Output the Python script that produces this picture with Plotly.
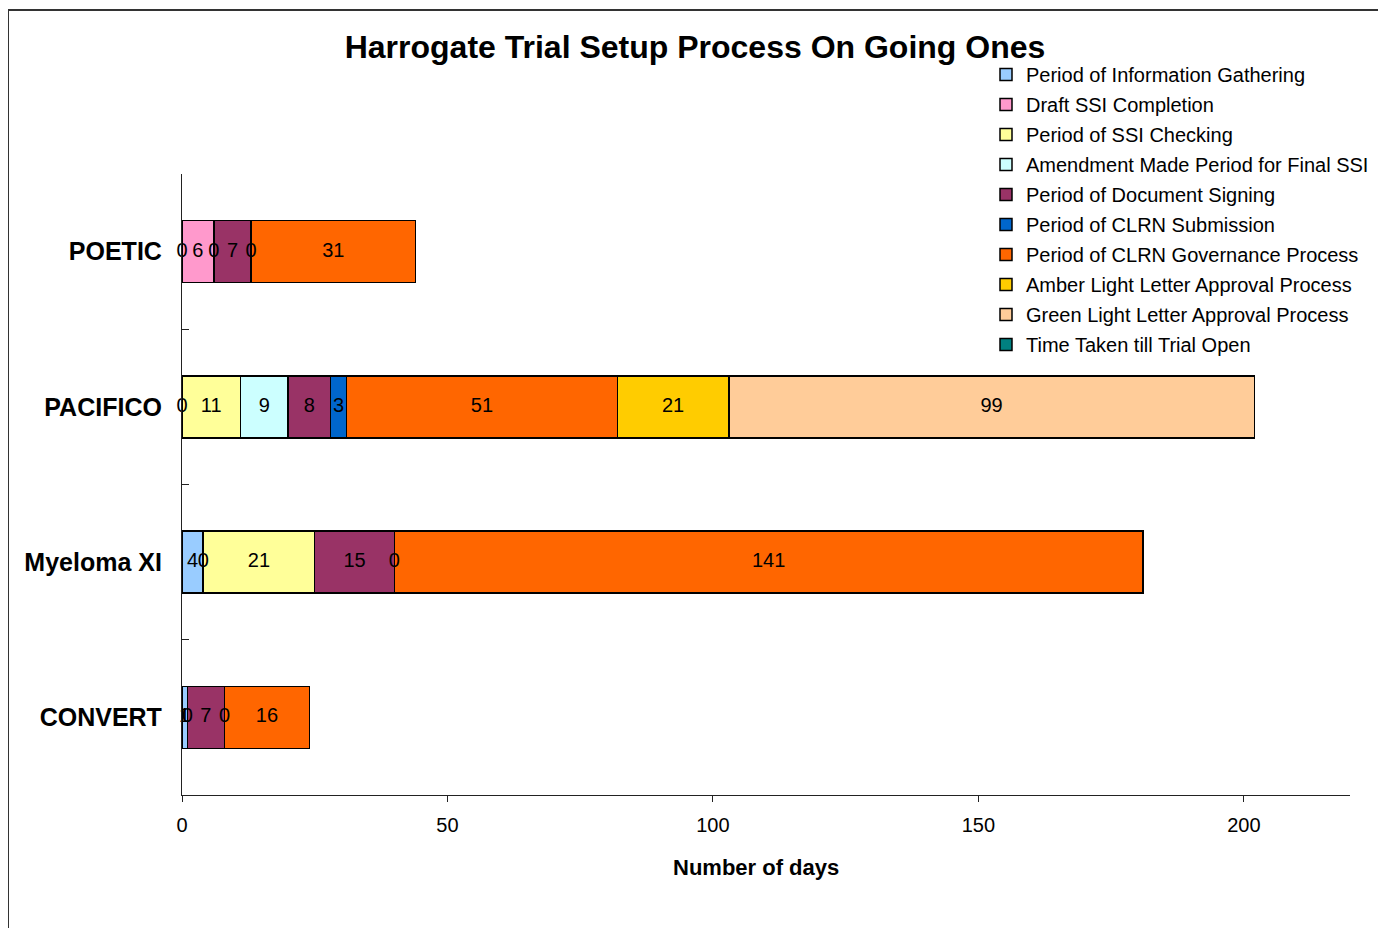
import plotly.graph_objects as go

trials = ["POETIC", "PACIFICO", "Myeloma XI", "CONVERT"]

series_names = [
    "Period of Information Gathering",
    "Draft SSI Completion",
    "Period of SSI Checking",
    "Amendment Made Period for Final SSI",
    "Period of Document Signing",
    "Period of CLRN Submission",
    "Period of CLRN Governance Process",
    "Amber Light Letter Approval Process",
    "Green Light Letter Approval Process",
    "Time Taken till Trial Open",
]

info_gathering = [0, 0, 4, 1]
draft_ssi = [6, None, 0, 0]
ssi_checking = [0, 11, 21, None]
amendment = [None, 9, None, None]
doc_signing = [7, 8, 15, 7]
clrn_submission = [0, 3, 0, 0]
clrn_governance = [31, 51, 141, 16]
amber_light = [None, 21, None, None]
green_light = [None, 99, None, None]
time_to_open = [None, None, None, None]

x_ticks = [0, 50, 100, 150, 200]

series_values = [info_gathering, draft_ssi, ssi_checking, amendment, doc_signing,
                 clrn_submission, clrn_governance, amber_light, green_light, time_to_open]
colors = ["#99CCFF", "#FF99CC", "#FFFF99", "#CCFFFF", "#993366",
          "#0066CC", "#FF6600", "#FFCC00", "#FFCC99", "#008080"]

FONT = "Liberation Sans, Arial, sans-serif"
OFF = 8                     # page body margin
W, H = 1386 - OFF, 928 - OFF


def px(x):
    return (x - OFF) / W


def py(y):
    return 1 - (y - OFF) / H


fig = go.Figure()
for i, (name, vals, col) in enumerate(zip(series_names, series_values, colors)):
    fig.add_trace(go.Bar(
        y=trials, x=vals, name=name, orientation="h",
        marker=dict(color=col, line=dict(color="black", width=1.5)),
        legendgroup=f"g{i}", hoverinfo="x+name",
    ))

# value labels at segment centres (including zero-length segments)
lab_x, lab_y, lab_t = [], [], []
for j, t in enumerate(trials):
    cum = 0
    for vals in series_values:
        v = vals[j]
        if v is None:
            continue
        lab_x.append(cum + v / 2)
        lab_y.append(t)
        lab_t.append(str(v))
        cum += v
fig.add_trace(go.Scatter(x=lab_x, y=lab_y, text=lab_t, mode="text", cliponaxis=False,
                         textfont=dict(family=FONT, size=20, color="black"),
                         showlegend=False, hoverinfo="skip"))

fig.update_layout(
    width=W, height=H,
    barmode="stack", bargap=0.6,
    paper_bgcolor="white", plot_bgcolor="white",
    margin=dict(l=0, r=0, t=0, b=0, autoexpand=False),
    font=dict(family=FONT, color="black"),
    title=dict(text="<b>Harrogate Trial Setup Process On Going Ones</b>",
               x=px(695), xanchor="center", y=py(47), yanchor="middle",
               font=dict(family=FONT, size=32, color="black")),
    xaxis=dict(domain=[px(182), px(1350)], range=[0, 220], tickvals=x_ticks,
               showgrid=False, zeroline=False, automargin=False,
               showline=True, linecolor="#222", linewidth=1.2,
               ticks="outside", ticklen=6, tickcolor="#222", ticklabelstandoff=6,
               tickfont=dict(family=FONT, size=20, color="black")),
    yaxis=dict(domain=[py(795), py(174)], automargin=False,
               categoryorder="array", categoryarray=trials[::-1],
               showgrid=False, showline=True, linecolor="#222", linewidth=1.2,
               ticks="inside", ticklen=7, tickcolor="#222", tickson="boundaries",
               ticklabelstandoff=14,
               tickfont=dict(family=FONT, size=25, color="black", weight="bold")),
    legend=dict(x=px(986), xanchor="left", y=py(55), yanchor="top",
                traceorder="grouped", tracegroupgap=1,
                font=dict(family=FONT, size=20, color="black"),
                bgcolor="rgba(0,0,0,0)", itemwidth=30),
    annotations=[dict(text="<b>Number of days</b>", xref="paper", yref="paper",
                      x=px(756), y=py(867), xanchor="center", yanchor="middle",
                      showarrow=False, font=dict(family=FONT, size=22, color="black"))],
    shapes=[dict(type="rect", xref="paper", yref="paper",
                 x0=px(8), x1=1.01, y0=-0.01, y1=py(10),
                 line=dict(color="#333", width=2), layer="below")],
)

fig.write_html("out.html")
